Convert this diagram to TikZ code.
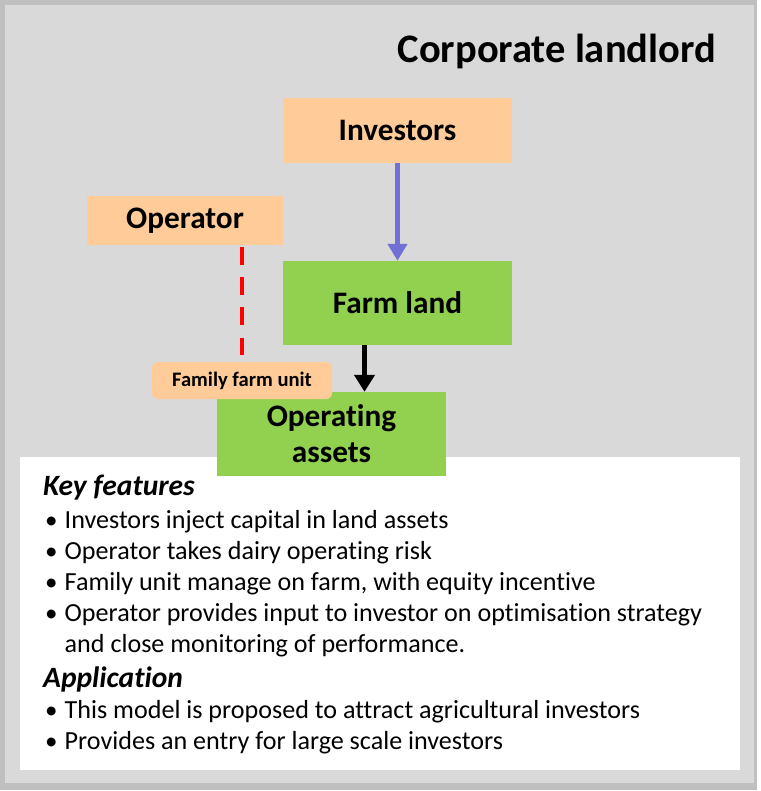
\documentclass[tikz,border=0pt]{standalone}
\usepackage{fontspec}
\setmainfont{Carlito}[Ligatures=CommonOff]
\usetikzlibrary{arrows.meta,calc}
\definecolor{frameg}{HTML}{BFBFBF}
\definecolor{panelg}{HTML}{D9D9D9}
\definecolor{peach}{HTML}{FFCC99}
\definecolor{leaf}{HTML}{92D050}
\definecolor{arrowblue}{HTML}{7070D6}
\tikzset{
  box/.style={inner sep=0pt, align=center, font=\bfseries\fontsize{31.3}{36}\selectfont},
  peachbox/.style={box, fill=peach},
  greenbox/.style={box, fill=leaf},
  listline/.style={anchor=base west, inner sep=0pt, font=\fontsize{26.1}{30}\selectfont},
  listhead/.style={anchor=base west, inner sep=0pt, font=\bfseries\itshape\fontsize{29.5}{32}\selectfont},
  bul/.style={anchor=base west, inner sep=0pt, font=\fontsize{25}{30}\selectfont},
}
\begin{document}
\begin{tikzpicture}[x=1pt,y=-1pt]
\useasboundingbox (0,0) rectangle (760,791);
% frame
\fill[frameg] (0,0) rectangle (757,790);
\fill[panelg] (5,5) rectangle (754,783);
% white text panel
\node[fill=white, inner sep=0pt, minimum width=720pt, minimum height=313pt, anchor=north west] (panel) at (20,457) {};
% title
\node[anchor=base east, inner sep=0pt, font=\bfseries\fontsize{40.5}{48}\selectfont] (title) at (716,63) {Corporate landlord};
% boxes
\node[peachbox, minimum width=229pt, minimum height=65pt] (inv) at (397.5,130.5) {Investors};
\node[peachbox, minimum width=196pt, minimum height=49pt] (op) at (185,220.5) {Operator};
\node[greenbox, minimum width=229pt, minimum height=84pt] (farm) at (397.5,303) {Farm land};
\node[greenbox, minimum width=229pt, minimum height=84pt] (ops) at (331.5,434) {Operating\\assets};
\node[peachbox, rounded corners=6pt, minimum width=180pt, minimum height=37pt, font=\bfseries\fontsize{20.6}{23}\selectfont] (fam) at (242,380.5) {Family farm unit};
% connectors
\draw[arrowblue, line width=5pt, -{Triangle[width=19pt,length=17pt]}] (inv.south) -- (farm.north);
\coordinate (mid) at ($(farm.south)!0.5!(ops.north)$);
\draw[black, line width=5pt, -{Triangle[width=20pt,length=17pt]}] (farm.south -| mid) -- (ops.north -| mid);
\draw[red, line width=4.7pt, dash pattern=on 17.7pt off 12.4pt] ([yshift=-2pt]op.south -| fam.north) -- ([yshift=7pt]fam.north);
% list
\node[listhead] (kf) at (43,495) {Key features};
\node[bul] (b1) at (45,528) {•};
\node[listline] (t1) at (64.5,528) {Investors inject capital in land assets};
\node[bul] (b2) at (45,559) {•};
\node[listline] (t2) at (64.5,559) {Operator takes dairy operating risk};
\node[bul] (b3) at (45,590) {•};
\node[listline] (t3) at (64.5,590) {Family unit manage on farm, with equity incentive};
\node[bul] (b4) at (45,621) {•};
\node[listline] (t4) at (64.5,621) {Operator provides input to investor on optimisation strategy};
\node[listline] (t5) at (64.5,652) {and close monitoring of performance.};
\node[listhead] (ap) at (43,687) {Application};
\node[bul] (b6) at (45,718) {•};
\node[listline] (t6) at (64.5,718) {This model is proposed to attract agricultural investors};
\node[bul] (b7) at (45,749) {•};
\node[listline] (t7) at (64.5,749) {Provides an entry for large scale investors};
\end{tikzpicture}
\end{document}
